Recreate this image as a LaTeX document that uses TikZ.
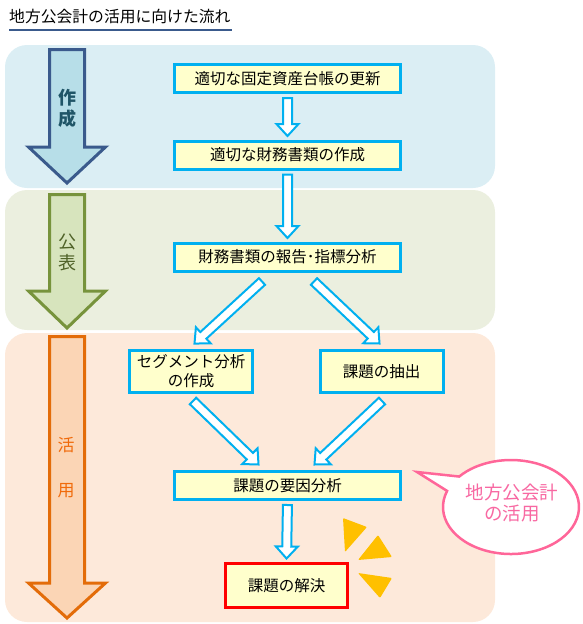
\documentclass[tikz,border=0pt]{standalone}
\usepackage{fontspec}
\setmainfont{Noto Sans CJK JP}
\usetikzlibrary{calc}
\definecolor{bandblue}{HTML}{DBEEF4}
\definecolor{bandgreen}{HTML}{EBEFDF}
\definecolor{bandorange}{HTML}{FDE9DA}
\definecolor{boxfill}{HTML}{FFFFCC}
\definecolor{cyanline}{HTML}{00B0F0}
\definecolor{titleblue}{HTML}{3A5A8C}
\definecolor{arrblue}{HTML}{B7DEE8}
\definecolor{arrbluedraw}{HTML}{3A5A8C}
\definecolor{arrgreen}{HTML}{D7E4BD}
\definecolor{arrgreendraw}{HTML}{77933C}
\definecolor{arrorange}{HTML}{FBD5B5}
\definecolor{arrorangedraw}{HTML}{E36C09}
\definecolor{txtteal}{HTML}{1F5567}
\definecolor{txtgreen}{HTML}{4F6228}
\definecolor{txtorange}{HTML}{F06A0A}
\definecolor{pinkline}{HTML}{FF6699}
\definecolor{pinktext}{HTML}{F868A2}
\definecolor{markyellow}{HTML}{FFC000}
\newcommand\boxfont{\fontsize{15.5}{19}\selectfont}
\newcommand\sidefont{\fontsize{18}{20}\selectfont}
\newcommand\flowblockarrow[4]{%
  \coordinate (ba-a) at ($(#1)!#3!(#2)$);
  \coordinate (ba-b) at ($(#2)!#4!(#1)$);
  \coordinate (ba-h) at ($(ba-b)!12pt!(ba-a)$);
  \draw[flowarrow]
    ($(ba-a)!4.5pt!90:(ba-b)$) -- ($(ba-h)!4.5pt!90:(ba-b)$) --
    ($(ba-h)!11pt!90:(ba-b)$) -- (ba-b) --
    ($(ba-h)!11pt!-90:(ba-b)$) -- ($(ba-h)!4.5pt!-90:(ba-b)$) --
    ($(ba-a)!4.5pt!-90:(ba-b)$) -- cycle;}
\newcommand\sidearrow[5]{%
  \draw[line width=3pt, fill=#4, draw=#5, line join=miter]
    (49.5,#1) -- (84.5,#1) -- (84.5,#2) -- (105.5,#2) -- (67,#3) --
    (28.5,#2) -- (49.5,#2) -- cycle;}
\tikzset{
  flowbox/.style={draw=cyanline, fill=boxfill, line width=3pt,
    minimum width=226pt, minimum height=28pt, inner sep=0pt,
    font=\boxfont, align=center, text=black},
  smallbox/.style={flowbox, minimum width=123pt, minimum height=42pt},
  flowarrow/.style={draw=cyanline, fill=white, line width=2pt, line join=miter},
  sidetext/.style={font=\sidefont, inner sep=0pt},
}
\begin{document}
\begin{tikzpicture}[x=1pt, y=-1pt]
\useasboundingbox (0,0) rectangle (583,624);
% title
\node[anchor=west, inner sep=0pt, font=\fontsize{15.8}{18}\selectfont] (title) at (9,16.5) {地方公会計の活用に向けた流れ};
\draw[titleblue, line width=2.5pt] (9,30) -- (232,30);
% bands
\fill[bandblue, rounded corners=22pt] (5,45) rectangle (495,188);
\fill[bandgreen, rounded corners=22pt] (5,190) rectangle (495,330);
\fill[bandorange, rounded corners=22pt] (5,333) rectangle (495,622);
% side arrows
\sidearrow{49.5}{147}{183}{arrblue}{arrbluedraw}
\sidearrow{194.5}{291}{328}{arrgreen}{arrgreendraw}
\sidearrow{336.5}{583}{618}{arrorange}{arrorangedraw}
\node[sidetext, text=txtteal, font=\sidefont\bfseries] (saku) at (67,98) {作};
\node[sidetext, text=txtteal, font=\sidefont\bfseries] (sei) at (67,119) {成};
\node[sidetext, text=txtgreen] (kou) at (67,242) {公};
\node[sidetext, text=txtgreen] (hyou) at (67,263) {表};
\node[sidetext, text=txtorange, font=\fontsize{17}{20}\selectfont] (katsu) at (66,445) {活};
\node[sidetext, text=txtorange, font=\fontsize{17}{20}\selectfont] (you) at (66,491) {用};
% flow boxes
\node[flowbox] (b1) at (287.5,78.5) {適切な固定資産台帳の更新};
\node[flowbox] (b2) at (287.5,155) {適切な財務書類の作成};
\node[flowbox] (b3) at (287.5,257) {財務書類の報告･指標分析};
\node[smallbox] (b4) at (191,371.5) {セグメント分析\\の作成};
\node[smallbox] (b5) at (381.5,371.5) {課題の抽出};
\node[flowbox] (b6) at (287.5,485.5) {課題の要因分析};
\node[flowbox, draw=red, minimum width=122pt, minimum height=44pt] (b7) at (286.5,585.5) {課題の解決};
% flow arrows
\flowblockarrow{b1.south}{b2.north}{4pt}{3.5pt}
\flowblockarrow{b2.south}{b3.north}{4pt}{3.5pt}
\coordinate (d1a) at ($(b3.south)+(-25.5,9)$);
\coordinate (d1b) at ($(b4.north)+(3.5,-5.5)$);
\coordinate (d2a) at ($(b3.south)+(26.5,9)$);
\coordinate (d2b) at ($(b5.north)+(-2,-5.5)$);
\coordinate (d3a) at ($(b4.south)+(2,7)$);
\coordinate (d3b) at ($(b6.north)+(-29,-5.5)$);
\coordinate (d4a) at ($(b5.south)+(0.5,7)$);
\coordinate (d4b) at ($(b6.north)+(27,-5.5)$);
\flowblockarrow{d1a}{d1b}{0pt}{0pt}
\flowblockarrow{d2a}{d2b}{0pt}{0pt}
\flowblockarrow{d3a}{d3b}{0pt}{0pt}
\flowblockarrow{d4a}{d4b}{0pt}{0pt}
\flowblockarrow{b6.south}{b7.north}{4pt}{3.5pt}
% yellow marks
\fill[markyellow, rounded corners=1pt] (343,518) -- (367,527) -- (345,552) -- cycle;
\fill[markyellow, rounded corners=1pt] (378,535) -- (392,557) -- (358,560) -- cycle;
\fill[markyellow, rounded corners=1pt] (358,573) -- (392,578) -- (380,598) -- cycle;
% callout
\draw[pinkline, fill=white, line width=2.5pt, line join=miter]
  (511,507) ++(160:68pt and 47pt)
  arc[start angle=160, end angle=499.6, x radius=68pt, y radius=47pt]
  -- (417,472) -- cycle;
\node[text=pinktext, font=\fontsize{18.5}{21}\selectfont, align=center, inner sep=0pt] (ctext) at (512,503) {地方公会計\\の活用};
\end{tikzpicture}
\end{document}
